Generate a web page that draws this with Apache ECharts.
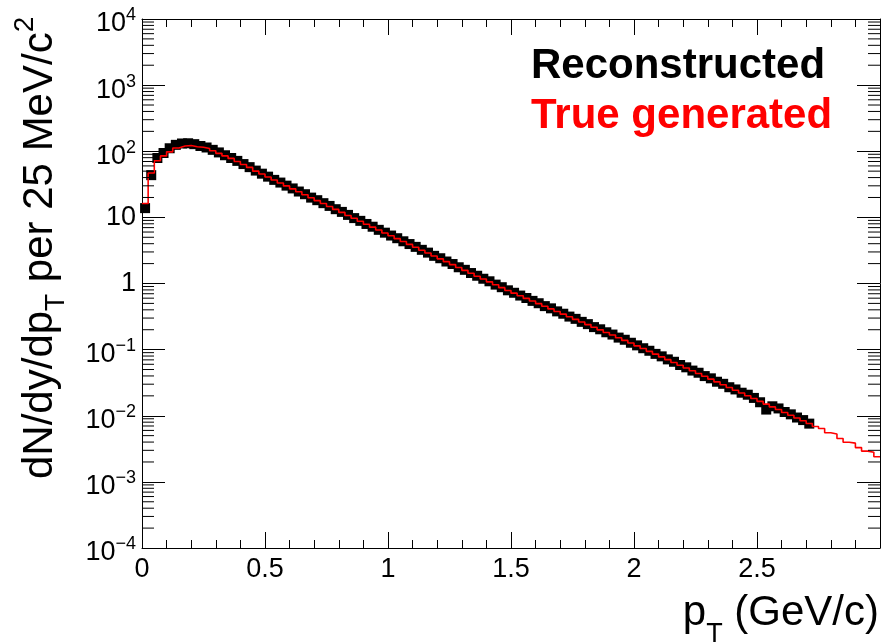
<!DOCTYPE html>
<html>
<head>
<meta charset="utf-8">
<title>pT spectrum</title>
<script src="https://cdn.jsdelivr.net/npm/echarts@6/dist/echarts.min.js"></script>
<style>
  html, body { margin: 0; padding: 0; background: #fff; }
  #chart { width: 885px; height: 643px; }
</style>
</head>
<body>
<div id="chart"></div>
<script>
// Histogram binning: 25 MeV/c bins starting at pT = 0
const binWidth = 0.025;
const xMin = 0;
const xMax = 3;

// True generated spectrum, one value per bin (0 - 3 GeV/c)
const trueGenerated = [
  16.2, 47, 72, 85, 98, 112, 120, 122, 117, 115,
  110, 102, 93, 85, 78, 70, 63, 57, 50, 45.2,
  40.7, 36.7, 33.1, 29.9, 27.0, 24.4, 22.0, 19.8, 17.9, 16.2,
  14.6, 13.2, 11.9, 10.7, 9.68, 8.74, 7.89, 7.12, 6.43, 5.80,
  5.27, 4.77, 4.31, 3.90, 3.53, 3.19, 2.89, 2.61, 2.36, 2.14,
  1.93, 1.75, 1.58, 1.43, 1.29, 1.17, 1.06, 0.957, 0.866, 0.783,
  0.715, 0.652, 0.595, 0.543, 0.496, 0.453, 0.413, 0.377, 0.344, 0.314,
  0.287, 0.262, 0.239, 0.218, 0.199, 0.182, 0.166, 0.151, 0.138, 0.126,
  0.114, 0.104, 0.0942, 0.0855, 0.0776, 0.0705, 0.0640, 0.0581, 0.0527, 0.0479,
  0.0435, 0.0395, 0.0358, 0.0325, 0.0295, 0.0268, 0.0243, 0.0221, 0.0201, 0.0182,
  0.0165, 0.0150, 0.0136, 0.0124, 0.0112, 0.0102, 0.00926, 0.00841, 0.00763, 0.00687,
  0.00640, 0.00552, 0.00530, 0.00452, 0.00398, 0.00385, 0.00330, 0.00292, 0.00280, 0.00240
];

// Reconstructed spectrum, one value per bin (0 - 2.725 GeV/c)
const reconstructed = [
  13.8, 43.5, 79, 94, 111, 125, 131, 132, 128, 120,
  114, 105, 96, 87, 79, 71.5, 64, 57.5, 51, 45.8,
  41.3, 36.9, 33.6, 30.2, 27.4, 24.6, 22.4, 19.9, 18.2, 16.4,
  14.9, 13.3, 12.1, 10.9, 9.75, 8.86, 7.95, 7.22, 6.48, 5.87,
  5.31, 4.84, 4.35, 3.95, 3.58, 3.23, 2.93, 2.62, 2.41, 2.15,
  1.97, 1.76, 1.61, 1.44, 1.31, 1.18, 1.08, 0.962, 0.879, 0.789,
  0.724, 0.657, 0.604, 0.546, 0.503, 0.455, 0.421, 0.379, 0.349, 0.316,
  0.292, 0.263, 0.243, 0.219, 0.203, 0.183, 0.169, 0.152, 0.141, 0.127,
  0.116, 0.105, 0.0961, 0.0862, 0.0791, 0.0712, 0.0655, 0.0586, 0.0540, 0.0482,
  0.0447, 0.0398, 0.0368, 0.0327, 0.0304, 0.0270, 0.0250, 0.0223, 0.0208, 0.0186,
  0.0160, 0.0124, 0.0139, 0.0129, 0.0114, 0.0105, 0.0094, 0.0086, 0.0076
];

// Axis tick labels
const xTickValues = [0, 0.5, 1, 1.5, 2, 2.5];
const xTickLabels = ['0', '0.5', '1', '1.5', '2', '2.5'];
const yExponents = [-4, -3, -2, -1, 0, 1, 2, 3, 4];
const yMin = 1e-4;
const yMax = 1e4;

const legendNames = ['Reconstructed', 'True generated'];

const FONT = 'Liberation Sans, Arial, Helvetica, sans-serif';

// Histogram outline: each bin drawn from its low edge, closed at the last high edge
const trueSteps = trueGenerated.map((v, i) => [xMin + i * binWidth, v]);
trueSteps.push([xMin + trueGenerated.length * binWidth, trueGenerated[trueGenerated.length - 1]]);

// Markers sit at the bin centres
const recoPoints = reconstructed.map((v, i) => [xMin + (i + 0.5) * binWidth, v]);

// Log-axis minor ticks at 2..9 x 10^n
const minorTickValues = [];
for (let e = -4; e < 4; e++) {
  for (let k = 2; k <= 9; k++) minorTickValues.push([k * Math.pow(10, e)]);
}

function yLabel(value) {
  const e = Math.round(Math.log10(value));
  if (yExponents.indexOf(e) < 0) return '';
  if (e === 0) return '{p|1}';
  if (e === 1) return '{p|10}';
  return '{b|10}{s|' + (e < 0 ? '\u2212' + (-e) : e) + '}';
}

function xLabel(value) {
  for (let i = 0; i < xTickValues.length; i++) {
    if (Math.abs(xTickValues[i] - value) < 1e-6) return xTickLabels[i];
  }
  return '';
}

const axisLineStyle = { color: '#000', width: 1 };

const xAxisBase = {
  type: 'value',
  min: xMin,
  max: xMax,
  interval: 0.5,
  axisLine: { show: true, onZero: false, lineStyle: axisLineStyle },
  axisTick: { show: true, inside: true, length: 16, lineStyle: axisLineStyle },
  minorTick: { show: true, splitNumber: 5, length: 8, lineStyle: axisLineStyle },
  splitLine: { show: false },
  minorSplitLine: { show: false }
};

const yAxisBase = {
  type: 'log',
  logBase: 10,
  min: yMin,
  max: yMax,
  splitNumber: 8,
  axisLine: { show: true, onZero: false, lineStyle: axisLineStyle },
  axisTick: { show: true, inside: true, length: 23, lineStyle: axisLineStyle },
  splitLine: { show: false }
};

const chart = echarts.init(document.getElementById('chart'), null, { renderer: 'canvas' });

chart.setOption({
  backgroundColor: '#ffffff',
  animation: false,
  textStyle: { fontFamily: FONT },
  grid: { left: 142, right: 5, top: 19, bottom: 95, containLabel: false },
  legend: {
    data: [
      { name: legendNames[0], textStyle: { color: '#000000' } },
      { name: legendNames[1], textStyle: { color: '#ff0000' } }
    ],
    orient: 'vertical',
    left: 521,
    top: 40,
    icon: 'none',
    itemWidth: 0,
    itemHeight: 42,
    itemGap: 8,
    selectedMode: false,
    textStyle: { fontFamily: FONT, fontSize: 42, fontWeight: 'bold', lineHeight: 42 }
  },
  xAxis: [
    Object.assign({}, xAxisBase, {
      position: 'bottom',
      axisLabel: {
        show: true, formatter: xLabel, color: '#000', fontSize: 27,
        fontFamily: FONT, margin: 8, showMaxLabel: false
      }
    }),
    Object.assign({}, xAxisBase, {
      position: 'top',
      axisLabel: { show: false }
    })
  ],
  yAxis: [
    Object.assign({}, yAxisBase, {
      position: 'left',
      axisLabel: {
        show: true,
        formatter: yLabel,
        margin: 6,
        color: '#000',
        fontFamily: FONT,
        rich: {
          p: { fontSize: 27, fontFamily: FONT, color: '#000' },
          b: { fontSize: 27, fontFamily: FONT, color: '#000', lineHeight: 37, verticalAlign: 'bottom' },
          s: { fontSize: 18, fontFamily: FONT, color: '#000', verticalAlign: 'top', padding: [6, 0, 0, 0] }
        }
      }
    }),
    Object.assign({}, yAxisBase, {
      position: 'right',
      axisLabel: { show: false }
    })
  ],
  graphic: [
    {
      type: 'text',
      x: 40,
      y: 479,
      rotation: Math.PI / 2,
      silent: true,
      style: {
        text: '{m|dN/dy/dp}{sub|T}{m| per 25 MeV/c}{sup|2}',
        align: 'left',
        verticalAlign: 'middle',
        rich: {
          m: { fontSize: 42, fontFamily: FONT, fill: '#000', lineHeight: 60 },
          sub: { fontSize: 28, fontFamily: FONT, fill: '#000', verticalAlign: 'bottom' },
          sup: { fontSize: 28, fontFamily: FONT, fill: '#000', verticalAlign: 'top', padding: [1, 0, 0, 0] }
        }
      }
    },
    {
      type: 'text',
      x: 879,
      y: 613,
      silent: true,
      style: {
        text: '{m|p}{sub|T}{m| (GeV/c)}',
        align: 'right',
        verticalAlign: 'middle',
        rich: {
          m: { fontSize: 42, fontFamily: FONT, fill: '#000', lineHeight: 70 },
          sub: { fontSize: 27, fontFamily: FONT, fill: '#000', verticalAlign: 'bottom' }
        }
      }
    }
  ],
  series: [
    {
      name: legendNames[0],
      type: 'scatter',
      data: recoPoints,
      symbol: 'rect',
      symbolSize: 10,
      itemStyle: { color: '#000000', opacity: 1 },
      clip: true,
      silent: true,
      z: 2
    },
    {
      name: legendNames[1],
      type: 'line',
      data: trueSteps,
      step: 'end',
      showSymbol: false,
      symbol: 'none',
      lineStyle: { color: '#ff0000', width: 1.6 },
      itemStyle: { color: '#ff0000' },
      clip: true,
      silent: true,
      z: 3
    },
    {
      name: 'minor ticks',
      type: 'custom',
      data: minorTickValues,
      silent: true,
      clip: false,
      z: 4,
      renderItem: function (params, api) {
        const v = api.value(0);
        const left = api.coord([xMin, v]);
        const right = api.coord([xMax, v]);
        const style = { stroke: '#000', lineWidth: 1 };
        return {
          type: 'group',
          children: [
            { type: 'line', shape: { x1: left[0], y1: left[1], x2: left[0] + 12, y2: left[1] }, style: style },
            { type: 'line', shape: { x1: right[0], y1: right[1], x2: right[0] - 12, y2: right[1] }, style: style }
          ]
        };
      }
    }
  ]
});
</script>
</body>
</html>
